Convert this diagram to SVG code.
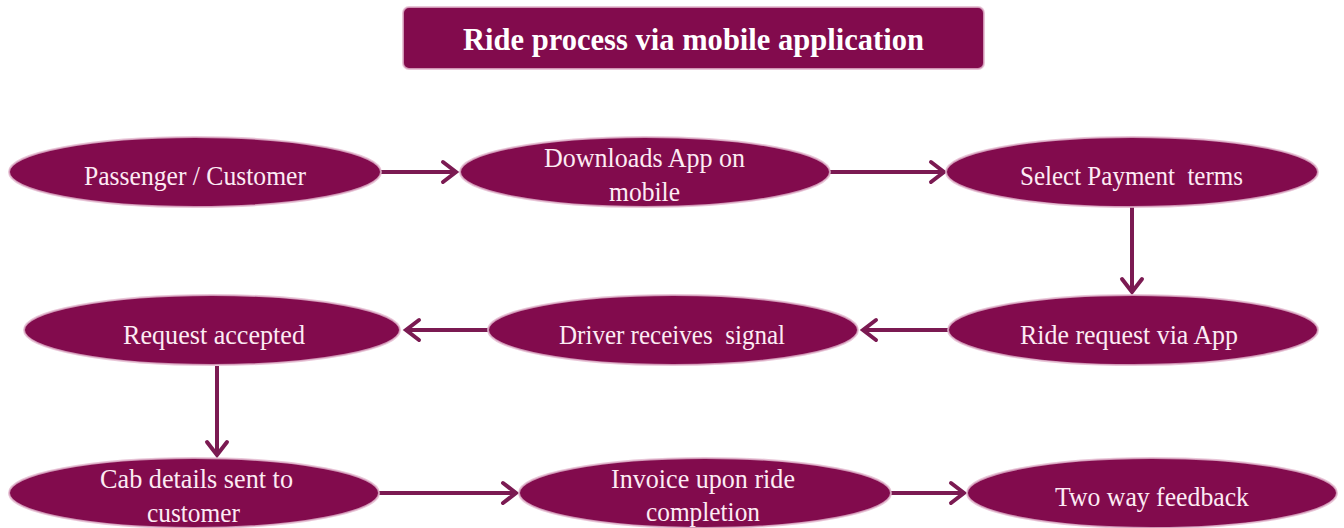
<svg xmlns="http://www.w3.org/2000/svg" width="1344" height="528" viewBox="0 0 1344 528">
  <style>
    .node ellipse { fill: #820b4d; stroke: #e2b6cd; stroke-width: 2; stroke-opacity: 0.8; }
    .lbl { font-family: "Liberation Serif", "Times New Roman", serif; font-size: 28px; fill: #fdebf4; text-anchor: middle; }
    .title { font-family: "Liberation Serif", "Times New Roman", serif; font-size: 32px; font-weight: bold; fill: #ffffff; text-anchor: middle; }
    .conn line { stroke: #7b1a52; stroke-width: 4; fill: none; }
  </style>
  <defs>
    <marker id="arr" markerUnits="userSpaceOnUse" markerWidth="30" markerHeight="30" viewBox="-20 -15 30 30" refX="0" refY="0" orient="auto" overflow="visible">
      <path d="M-13,-10 L0,0 L-13,10" fill="none" stroke="#7b1a52" stroke-width="4" stroke-linecap="round" stroke-linejoin="miter"/>
    </marker>
  </defs>
  <rect width="1344" height="528" fill="#ffffff"/>

  <g id="title">
    <rect x="403" y="7" width="581" height="62" rx="6" ry="6" fill="#820b4d" stroke="#e2b6cd" stroke-width="2" stroke-opacity="0.8"/>
    <text class="title" x="693.5" y="50" textLength="461" lengthAdjust="spacingAndGlyphs">Ride process via mobile application</text>
  </g>

  <g id="connectors" class="conn">
    <line x1="381" y1="172" x2="456" y2="172" marker-end="url(#arr)"/>
    <line x1="830" y1="172" x2="944" y2="172" marker-end="url(#arr)"/>
    <line x1="1132" y1="207" x2="1132" y2="292" marker-end="url(#arr)"/>
    <line x1="948" y1="330" x2="863" y2="330" marker-end="url(#arr)"/>
    <line x1="488" y1="330" x2="406" y2="330" marker-end="url(#arr)"/>
    <line x1="217" y1="366" x2="217" y2="455" marker-end="url(#arr)"/>
    <line x1="379" y1="493" x2="516" y2="493" marker-end="url(#arr)"/>
    <line x1="891" y1="493" x2="964" y2="493" marker-end="url(#arr)"/>
  </g>

  <g id="n1" class="node">
    <ellipse cx="195" cy="172" rx="186" ry="35"/>
    <text class="lbl" x="195" y="185" textLength="222" lengthAdjust="spacingAndGlyphs">Passenger / Customer</text>
  </g>
  <g id="n2" class="node">
    <ellipse cx="645" cy="172" rx="185" ry="35"/>
    <text class="lbl" x="644.5" y="167" textLength="201" lengthAdjust="spacingAndGlyphs">Downloads App on</text>
    <text class="lbl" x="644.5" y="201" textLength="71" lengthAdjust="spacingAndGlyphs">mobile</text>
  </g>
  <g id="n3" class="node">
    <ellipse cx="1132" cy="172" rx="186" ry="35"/>
    <text class="lbl" x="1131.5" y="185" textLength="223" lengthAdjust="spacingAndGlyphs" xml:space="preserve">Select Payment  terms</text>
  </g>
  <g id="n4" class="node">
    <ellipse cx="212" cy="330" rx="188" ry="35"/>
    <text class="lbl" x="214" y="344" textLength="182" lengthAdjust="spacingAndGlyphs">Request accepted</text>
  </g>
  <g id="n5" class="node">
    <ellipse cx="673" cy="330" rx="185" ry="35"/>
    <text class="lbl" x="672" y="344" textLength="226" lengthAdjust="spacingAndGlyphs" xml:space="preserve">Driver receives  signal</text>
  </g>
  <g id="n6" class="node">
    <ellipse cx="1133" cy="330" rx="185" ry="35"/>
    <text class="lbl" x="1129" y="344" textLength="218" lengthAdjust="spacingAndGlyphs">Ride request via App</text>
  </g>
  <g id="n7" class="node">
    <ellipse cx="194" cy="493" rx="185" ry="35"/>
    <text class="lbl" x="196.5" y="488" textLength="193" lengthAdjust="spacingAndGlyphs">Cab details sent to</text>
    <text class="lbl" x="193.5" y="522" textLength="93" lengthAdjust="spacingAndGlyphs">customer</text>
  </g>
  <g id="n8" class="node">
    <ellipse cx="705" cy="493" rx="186" ry="35"/>
    <text class="lbl" x="703" y="488" textLength="184" lengthAdjust="spacingAndGlyphs">Invoice upon ride</text>
    <text class="lbl" x="703" y="521" textLength="114" lengthAdjust="spacingAndGlyphs">completion</text>
  </g>
  <g id="n9" class="node">
    <ellipse cx="1152" cy="493" rx="185" ry="35"/>
    <text class="lbl" x="1152" y="506" textLength="194" lengthAdjust="spacingAndGlyphs">Two way feedback</text>
  </g>
</svg>
